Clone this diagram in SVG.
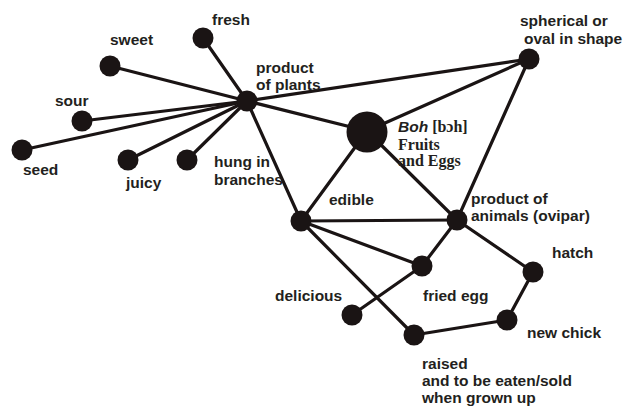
<svg xmlns="http://www.w3.org/2000/svg" width="624" height="408" viewBox="0 0 624 408">
  <style>
    .edge { stroke: #1a1414; stroke-width: 3.2; fill: none; stroke-linecap: round; }
    .dot { fill: #1a1414; }
    .lbl { font-family: "Liberation Sans", Arial, sans-serif; font-weight: bold; font-size: 15.5px; fill: #231f20; }
    .ser { font-family: "Liberation Serif", "Times New Roman", serif; font-weight: bold; font-size: 16px; fill: #231f20; }
  </style>
  <rect width="624" height="408" fill="#ffffff"/>
  <g id="connectors">
    <line class="edge" x1="247" y1="101" x2="203" y2="38"/>
    <line class="edge" x1="247" y1="101" x2="110" y2="66"/>
    <line class="edge" x1="247" y1="101" x2="82" y2="121"/>
    <line class="edge" x1="247" y1="101" x2="22" y2="150"/>
    <line class="edge" x1="247" y1="101" x2="128" y2="160"/>
    <line class="edge" x1="247" y1="101" x2="187" y2="160"/>
    <line class="edge" x1="247" y1="101" x2="529" y2="59"/>
    <line class="edge" x1="247" y1="101" x2="367" y2="131"/>
    <line class="edge" x1="247" y1="101" x2="301" y2="221"/>
    <line class="edge" x1="367" y1="131" x2="529" y2="59"/>
    <line class="edge" x1="529" y1="59" x2="457" y2="220"/>
    <line class="edge" x1="367" y1="131" x2="301" y2="221"/>
    <line class="edge" x1="367" y1="131" x2="457" y2="220"/>
    <line class="edge" x1="301" y1="221" x2="457" y2="220"/>
    <line class="edge" x1="301" y1="221" x2="422" y2="266"/>
    <line class="edge" x1="301" y1="221" x2="414" y2="335"/>
    <line class="edge" x1="457" y1="220" x2="422" y2="266"/>
    <line class="edge" x1="457" y1="220" x2="533" y2="272"/>
    <line class="edge" x1="422" y1="266" x2="352" y2="315"/>
    <line class="edge" x1="533" y1="272" x2="507" y2="320"/>
    <line class="edge" x1="507" y1="320" x2="414" y2="335"/>
  </g>
  <g id="fresh"><circle class="dot" cx="203" cy="38" r="10.5"/><text class="lbl" x="212" y="25">fresh</text></g>
  <g id="sweet"><circle class="dot" cx="110" cy="66" r="10.5"/><text class="lbl" x="110" y="45">sweet</text></g>
  <g id="sour"><circle class="dot" cx="82" cy="121" r="10.5"/><text class="lbl" x="55" y="106">sour</text></g>
  <g id="seed"><circle class="dot" cx="22" cy="150" r="10.5"/><text class="lbl" x="23" y="175">seed</text></g>
  <g id="juicy"><circle class="dot" cx="128" cy="160" r="10.5"/><text class="lbl" x="126" y="188">juicy</text></g>
  <g id="hung"><circle class="dot" cx="187" cy="160" r="10.5"/><text class="lbl" x="214" y="167">hung in</text><text class="lbl" x="214" y="185">branches</text></g>
  <g id="plants"><circle class="dot" cx="247" cy="101" r="10.5"/><text class="lbl" x="256" y="73">product</text><text class="lbl" x="256" y="90">of plants</text></g>
  <g id="boh"><circle class="dot" cx="367" cy="132" r="20.5"/>
    <text x="398" y="132"><tspan class="lbl" font-style="italic" font-size="16px">Boh</tspan><tspan class="ser" font-weight="normal" dx="4">[bɔh]</tspan></text>
    <text class="ser" x="398" y="150">Fruits</text>
    <text class="ser" x="398" y="166">and Eggs</text>
  </g>
  <g id="shape"><circle class="dot" cx="529" cy="59" r="10.5"/><text class="lbl" x="520" y="26">spherical or</text><text class="lbl" x="524" y="44">oval in shape</text></g>
  <g id="edible"><circle class="dot" cx="301" cy="221" r="10.5"/><text class="lbl" x="329" y="205">edible</text></g>
  <g id="animals"><circle class="dot" cx="457" cy="220" r="10.5"/><text class="lbl" x="471" y="204">product of</text><text class="lbl" x="471" y="221">animals (ovipar)</text></g>
  <g id="fried"><circle class="dot" cx="422" cy="266" r="10.5"/><text class="lbl" x="423" y="301">fried egg</text></g>
  <g id="delicious"><circle class="dot" cx="352" cy="315" r="10.5"/><text class="lbl" x="275" y="301">delicious</text></g>
  <g id="raised"><circle class="dot" cx="414" cy="335" r="10.5"/><text class="lbl" x="422" y="369">raised</text><text class="lbl" x="422" y="386">and to be eaten/sold</text><text class="lbl" x="422" y="403">when grown up</text></g>
  <g id="chick"><circle class="dot" cx="507" cy="320" r="10.5"/><text class="lbl" x="527" y="338">new chick</text></g>
  <g id="hatch"><circle class="dot" cx="533" cy="272" r="10.5"/><text class="lbl" x="552" y="258">hatch</text></g>
</svg>
